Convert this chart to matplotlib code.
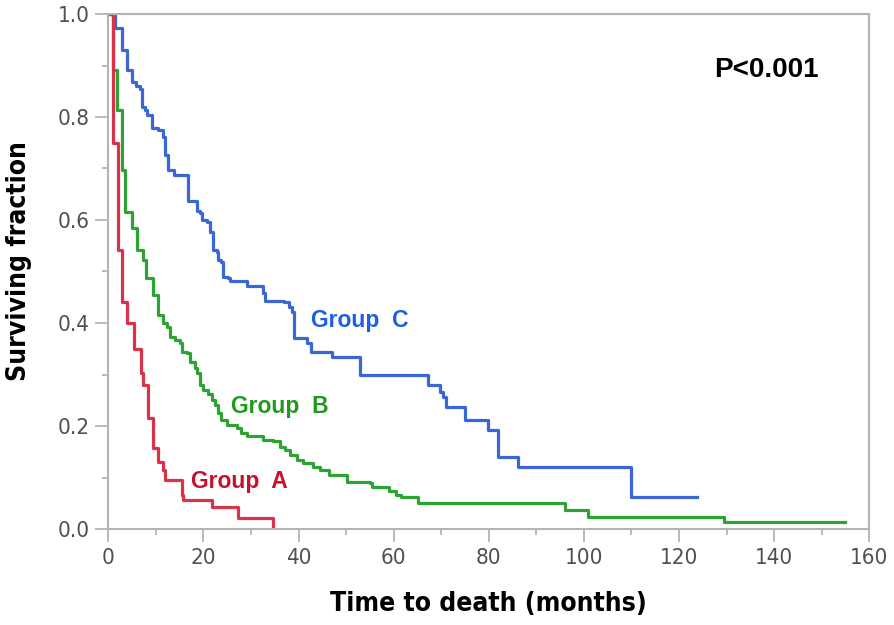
import matplotlib
matplotlib.use("Agg")
from matplotlib import pyplot as plt
from matplotlib import font_manager as fm
from matplotlib.ticker import MultipleLocator

# Kaplan-Meier steps (time in months, surviving fraction after the step)
a_time = [0, 0.9, 2.1, 2.8, 3.9, 5.5, 6.9, 7.4, 8.4, 9.4, 10.5, 11.5, 11.9, 15.4, 15.8, 21.7, 27.3, 34.7]
a_surv = [1.0, 0.75, 0.542, 0.441, 0.40, 0.35, 0.302, 0.28, 0.215, 0.157, 0.131, 0.115, 0.095, 0.066, 0.056, 0.043, 0.021, 0.0]

b_time = [0, 1.0, 1.8, 2.8, 3.5, 5.0, 6.1, 7.2, 8.0, 9.3, 10.4, 11.4, 12.3, 13.0, 14.0,
          15.1, 15.4, 16.5, 17.2, 18.2, 18.6, 19.3, 20.0, 21.0, 21.7, 22.4, 23.1, 23.8, 24.9, 27.0,
          28.0, 29.1, 32.6, 34.7, 36.1, 37.2, 38.2, 39.6, 41.0, 43.1, 44.5, 46.3, 50.1, 55.0, 55.4,
          59.0, 60.5, 61.5, 65.2, 96.0, 100.9, 129.5, 154.9]
b_surv = [1.0, 0.891, 0.814, 0.697, 0.616, 0.584, 0.542, 0.522, 0.487, 0.454, 0.416, 0.40, 0.393, 0.373, 0.367,
          0.361, 0.344, 0.341, 0.325, 0.312, 0.302, 0.28, 0.27, 0.263, 0.25, 0.241, 0.225, 0.212, 0.202, 0.196,
          0.186, 0.18, 0.173, 0.17, 0.16, 0.153, 0.144, 0.134, 0.128, 0.121, 0.115, 0.105, 0.092, 0.089, 0.082,
          0.073, 0.066, 0.062, 0.05, 0.037, 0.024, 0.014, 0.014]

c_time = [0, 1.4, 2.9, 3.9, 5.0, 5.9, 6.6, 7.0, 7.7, 8.1, 9.1, 10.5, 11.5, 11.9, 12.6,
          13.9, 16.8, 18.6, 19.3, 19.7, 20.7, 21.4, 22.1, 22.8, 23.1, 23.8, 24.2, 25.2, 25.6, 29.1,
          32.6, 33.0, 37.0, 38.0, 38.7, 39.0, 41.7, 42.7, 47.0, 52.9, 67.3, 69.7, 70.4, 71.0, 75.0,
          79.9, 82.0, 86.2, 110.0, 123.7]
c_surv = [1.0, 0.972, 0.930, 0.891, 0.868, 0.861, 0.855, 0.820, 0.814, 0.804, 0.778, 0.775, 0.762, 0.726, 0.697,
          0.687, 0.637, 0.617, 0.613, 0.600, 0.597, 0.577, 0.542, 0.538, 0.522, 0.519, 0.490, 0.487, 0.481, 0.472,
          0.459, 0.443, 0.44, 0.431, 0.422, 0.370, 0.361, 0.344, 0.334, 0.299, 0.28, 0.266, 0.256, 0.237, 0.212,
          0.192, 0.140, 0.120, 0.062, 0.062]

x_ticks = [0, 20, 40, 60, 80, 100, 120, 140, 160]
y_ticks = [0.0, 0.2, 0.4, 0.6, 0.8, 1.0]


def narrow_font(bold, size):
    # look for a narrow / condensed face, else plain Liberation Sans a bit smaller
    for f in fm.fontManager.ttflist:
        nm = f.name + " " + f.fname
        is_narrow = ("Narrow" in nm or "Condensed" in nm or str(f.stretch).endswith("condensed"))
        is_bold = f.weight in ("bold", 700, "700") or "Bold" in f.fname
        if is_narrow and is_bold == bold and "Italic" not in f.fname and "Oblique" not in f.fname:
            return fm.FontProperties(fname=f.fname, size=size)
    return fm.FontProperties(family="Liberation Sans", weight="bold" if bold else "normal",
                             size=size * 0.85)


grey = "#b4b4b4"
tick_fp = narrow_font(False, 16)
lab_fp = narrow_font(True, 19)

fig = plt.figure(figsize=(8.94, 6.25), dpi=100)
ax = fig.add_axes([108.3 / 894, 1 - 529 / 625, 761 / 894, 515 / 625])

ax.step(c_time, c_surv, where="post", color="#3b67d6", lw=2.3)
ax.step(b_time, b_surv, where="post", color="#2ca334", lw=2.3)
ax.step(a_time, a_surv, where="post", color="#d93349", lw=2.3)

ax.set_xlim(0, 160)
ax.set_ylim(0, 1.0)
ax.set_xticks(x_ticks)
ax.set_yticks(y_ticks)
ax.set_xticklabels([str(t) for t in x_ticks], fontproperties=tick_fp, color="#505050")
ax.set_yticklabels(["%.1f" % t for t in y_ticks], fontproperties=tick_fp, color="#505050")
ax.xaxis.set_minor_locator(MultipleLocator(10))
ax.yaxis.set_minor_locator(MultipleLocator(0.1))
ax.tick_params(which="major", length=9.4, width=1.3, color=grey, pad=4)
ax.tick_params(which="minor", length=4.3, width=1.3, color=grey)
for s in ax.spines.values():
    s.set_color(grey)
    s.set_linewidth(1.5)

ax.set_xlabel("Time to death (months)", fontproperties=lab_fp)
ax.set_ylabel("Surviving fraction", fontproperties=lab_fp)
ax.xaxis.set_label_coords(0.5, -0.12)
ax.yaxis.set_label_coords(-0.100, 0.52)

ax.text(52.9, 0.393, "Group  C", color="#1a5fe6", fontsize=16.5, fontweight="bold",
        family="Liberation Sans", ha="center", va="baseline")
ax.text(36.1, 0.225, "Group  B", color="#1f9a1f", fontsize=16.5, fontweight="bold",
        family="Liberation Sans", ha="center", va="baseline")
ax.text(27.5, 0.080, "Group  A", color="#c8102e", fontsize=16.5, fontweight="bold",
        family="Liberation Sans", ha="center", va="baseline")
ax.text(138.4, 0.877, "P<0.001", color="black", fontsize=20, fontweight="bold",
        family="Liberation Sans", ha="center", va="baseline")

fig.savefig("out.png", dpi=100)
